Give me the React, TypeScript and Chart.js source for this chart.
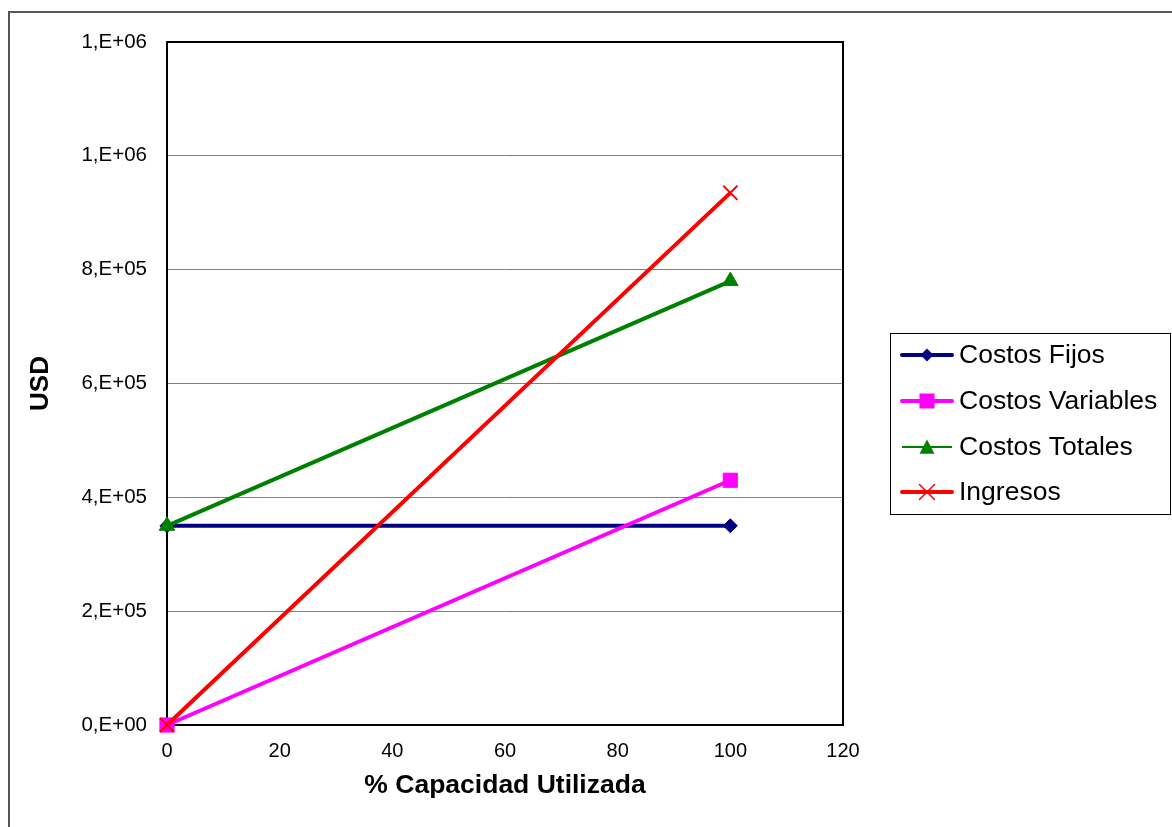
import React, { useEffect, useRef } from 'react';
import { Chart, registerables } from 'chart.js';
Chart.register(...registerables);

const capacity = [0, 100];
const costosFijos = [350000, 350000];
const costosVariables = [0, 430000];
const costosTotales = [350000, 780000];
const ingresos = [0, 935000];
const seriesNames = ['Costos Fijos', 'Costos Variables', 'Costos Totales', 'Ingresos'];
const seriesColors = ['#000080', '#FF00FF', '#008000', '#FF0000'];
const xTitle = '% Capacidad Utilizada';
const yTitle = 'USD';
const xMin = 0, xMax = 120, xStep = 20;
const yMin = 0, yMax = 1200000, yStep = 200000;

const FONT = '"Liberation Sans", Arial, sans-serif';

function fmtExp(v: number): string {
  const [m, e] = v.toExponential(0).split('e');
  const en = parseInt(e, 10);
  return m + ',E' + (en < 0 ? '-' : '+') + String(Math.abs(en)).padStart(2, '0');
}

function toPts(ys: number[]) {
  return ys.map((y, i) => ({ x: capacity[i], y }));
}

function drawMarker(ctx: CanvasRenderingContext2D, kind: string, x: number, y: number, color: string) {
  ctx.save();
  ctx.fillStyle = color;
  ctx.strokeStyle = color;
  ctx.beginPath();
  if (kind === 'diamond') {
    const r = 6.5;
    ctx.moveTo(x, y - r); ctx.lineTo(x + r, y); ctx.lineTo(x, y + r); ctx.lineTo(x - r, y); ctx.closePath(); ctx.fill();
  } else if (kind === 'square') {
    const s = 7.5;
    ctx.rect(x - s, y - s, 2 * s, 2 * s); ctx.fill();
  } else if (kind === 'triangle') {
    const r = 7.5;
    ctx.moveTo(x, y - r); ctx.lineTo(x + r, y + r * 0.9); ctx.lineTo(x - r, y + r * 0.9); ctx.closePath(); ctx.fill();
  } else if (kind === 'x') {
    const r = 7.5;
    ctx.lineWidth = 1.5;
    ctx.moveTo(x - r, y - r); ctx.lineTo(x + r, y + r);
    ctx.moveTo(x + r, y - r); ctx.lineTo(x - r, y + r); ctx.stroke();
  }
  ctx.restore();
}

const framePlugin = {
  id: 'frame',
  beforeDatasetsDraw(chart: any) {
    const { ctx, chartArea: a } = chart;
    ctx.save();
    ctx.strokeStyle = '#000';
    ctx.lineWidth = 2;
    ctx.beginPath();
    ctx.moveTo(a.left, a.top); ctx.lineTo(a.right, a.top); ctx.lineTo(a.right, a.bottom);
    ctx.stroke();
    ctx.restore();
  },
  afterDraw(chart: any) {
    const { ctx } = chart;
    ctx.save();
    // outer chart frame
    ctx.strokeStyle = '#555';
    ctx.lineWidth = 2;
    ctx.beginPath();
    ctx.moveTo(9, 827); ctx.lineTo(9, 12); ctx.lineTo(1172, 12);
    ctx.stroke();
    // legend
    const bx = 890, by = 333, bw = 280, bh = 181;
    ctx.fillStyle = '#fff';
    ctx.fillRect(bx, by, bw, bh);
    ctx.strokeStyle = '#000';
    ctx.lineWidth = 1;
    ctx.strokeRect(bx + 0.5, by + 0.5, bw, bh);
    const rowsY = [355, 401, 447, 492];
    const widths = [4, 4, 2, 4];
    const kinds = ['diamond', 'square', 'triangle', 'x'];
    ctx.font = '26.5px ' + FONT;
    ctx.textBaseline = 'middle';
    ctx.textAlign = 'left';
    seriesNames.forEach((name, i) => {
      const y = rowsY[i];
      ctx.strokeStyle = seriesColors[i];
      ctx.lineWidth = widths[i];
      ctx.lineCap = widths[i] > 2 ? 'round' : 'butt';
      ctx.beginPath();
      ctx.moveTo(902, y); ctx.lineTo(952, y);
      ctx.stroke();
      drawMarker(ctx, kinds[i], 927, y, seriesColors[i]);
      ctx.fillStyle = '#000';
      ctx.fillText(name, 959, y + 1);
    });
    ctx.restore();
  },
};

export default function App() {
  const ref = useRef<HTMLCanvasElement>(null);
  useEffect(() => {
    if (!ref.current) return;
    const chart = new Chart(ref.current, {
      type: 'scatter',
      data: {
        datasets: [
          {
            label: seriesNames[0], data: toPts(costosFijos), showLine: true, clip: false,
            borderColor: seriesColors[0], backgroundColor: seriesColors[0], borderWidth: 4,
            pointStyle: 'rectRot', pointRadius: 7, pointBorderWidth: 1, order: 3,
          },
          {
            label: seriesNames[1], data: toPts(costosVariables), showLine: true, clip: false,
            borderColor: seriesColors[1], backgroundColor: seriesColors[1], borderWidth: 4,
            pointStyle: 'rect', pointRadius: 10, pointBorderWidth: 1, order: 2,
          },
          {
            label: seriesNames[2], data: toPts(costosTotales), showLine: true, clip: false,
            borderColor: seriesColors[2], backgroundColor: seriesColors[2], borderWidth: 4,
            pointStyle: 'triangle', pointRadius: 9, pointBorderWidth: 1, order: 1,
          },
          {
            label: seriesNames[3], data: toPts(ingresos), showLine: true, clip: false,
            borderColor: seriesColors[3], backgroundColor: seriesColors[3], borderWidth: 4,
            pointStyle: 'crossRot', pointRadius: 10, pointBorderWidth: 2, order: 0,
          },
        ],
      },
      options: {
        animation: false,
        responsive: false,
        devicePixelRatio: 1,
        layout: { padding: { left: 0, top: 42, right: 329, bottom: 0 } },
        plugins: { legend: { display: false }, tooltip: { enabled: false } },
        scales: {
          x: {
            type: 'linear', min: xMin, max: xMax,
            ticks: { stepSize: xStep, color: '#000', font: { family: FONT, size: 20 }, padding: 14, maxRotation: 0 },
            grid: { display: false, drawTicks: false },
            border: { display: true, color: '#000', width: 2 },
            title: { display: true, text: xTitle, color: '#000', font: { family: FONT, size: 26.5, weight: 'bold' }, padding: { top: 0, bottom: 25 } },
            afterFit: (s: any) => { s.height = 102; },
          },
          y: {
            type: 'linear', min: yMin, max: yMax,
            ticks: { stepSize: yStep, color: '#000', font: { family: FONT, size: 20.5 }, padding: 20, callback: (v: any) => fmtExp(Number(v)) },
            grid: { color: '#808080', lineWidth: 1, drawTicks: false },
            border: { display: true, color: '#000', width: 2 },
            title: { display: true, text: yTitle, color: '#000', font: { family: FONT, size: 26, weight: 'bold' }, padding: { top: 25, bottom: 0 } },
            afterFit: (s: any) => { s.width = 167; },
          },
        },
      },
      plugins: [framePlugin],
    } as any);
    return () => chart.destroy();
  }, []);
  return (
    <div style={{ position: 'fixed', left: 0, top: 0, width: 1172, height: 827, background: '#fff' }}>
      <canvas ref={ref} width={1172} height={827} />
    </div>
  );
}
